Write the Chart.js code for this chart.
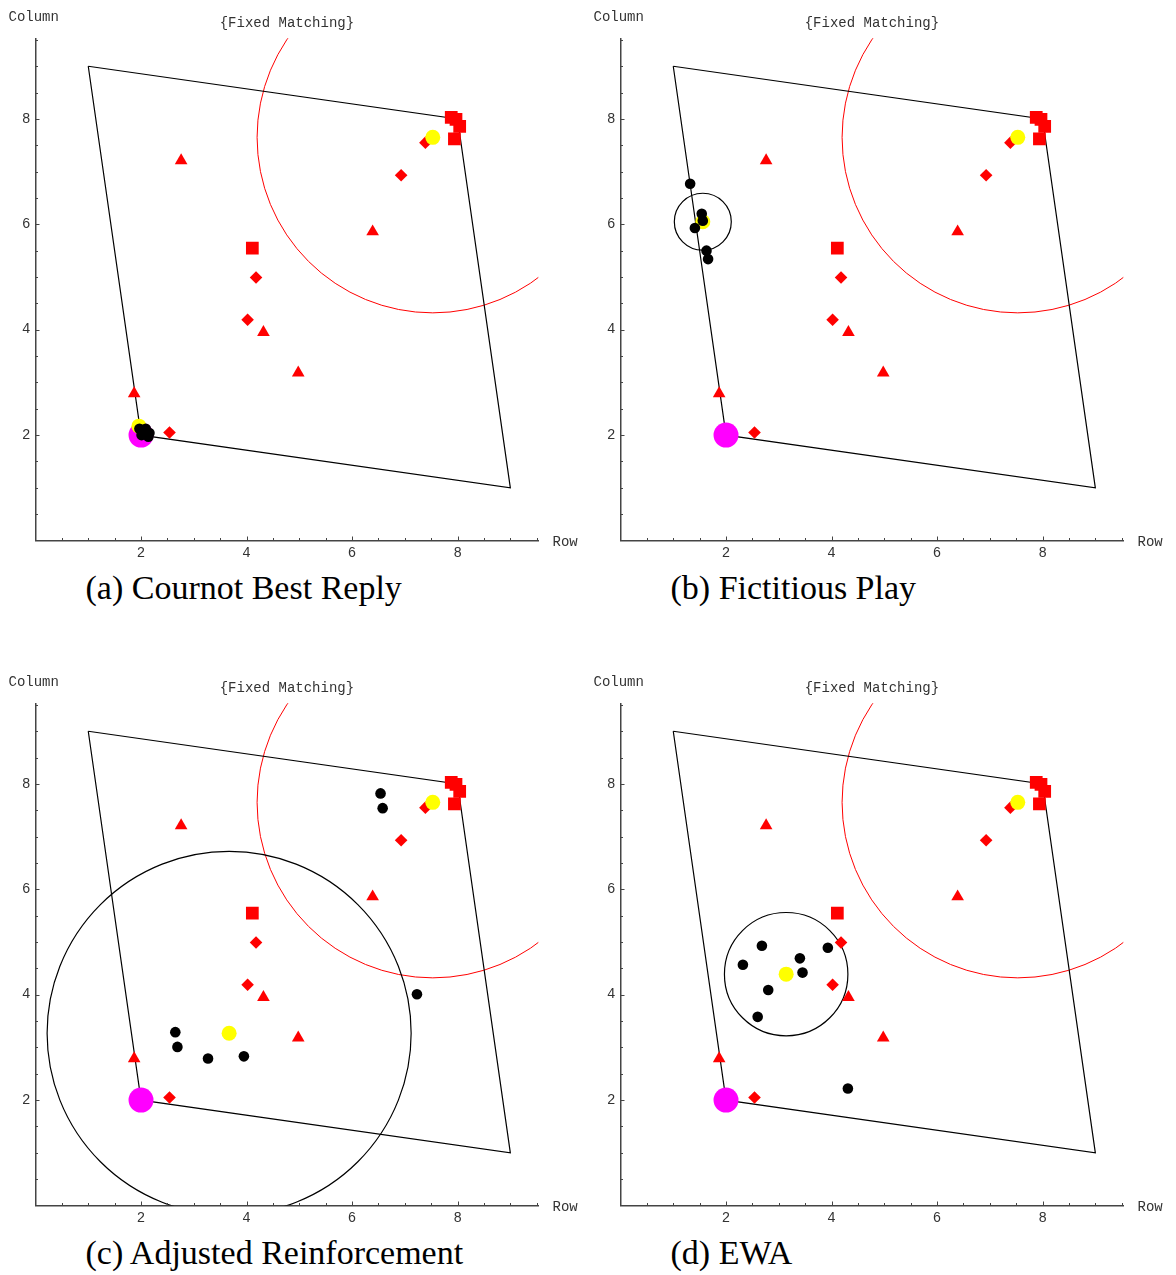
<!DOCTYPE html>
<html>
<head>
<meta charset="utf-8">
<script src="https://cdn.jsdelivr.net/npm/chart.js@4.4.1/dist/chart.umd.min.js"></script>
<style>
html,body{margin:0;padding:0;background:#fff;}
#wrap{position:relative;width:1176px;height:1275px;overflow:hidden;background:#fff;}
#wrap canvas{position:absolute;}
.lbl{position:absolute;font-family:"Liberation Mono",monospace;font-size:14px;line-height:14px;color:#333;white-space:nowrap;}
.cap{position:absolute;font-family:"Liberation Serif",serif;font-size:34px;line-height:34px;color:#000;white-space:nowrap;}
</style>
</head>
<body>
<div id="wrap"></div>
<script>
// ---------- data ----------
const tickValues = [2, 4, 6, 8];
const panelCaptions = ['(a) Cournot Best Reply', '(b) Fictitious Play', '(c) Adjusted Reinforcement', '(d) EWA'];
const chartTitle = '{Fixed Matching}';
const xAxisName = 'Row';
const yAxisName = 'Column';

// feasible region (quadrilateral)
const regionX = [1, 8, 9, 2, 1];
const regionY = [9, 8, 1, 2, 9];

// common red markers
const triangleX = [2.76, 6.39, 4.32, 4.98, 1.87];
const triangleY = [7.21, 5.86, 3.95, 3.18, 2.79];
const diamondX = [6.93, 7.39, 4.18, 4.02, 2.54];
const diamondY = [6.93, 7.55, 4.99, 4.19, 2.05];
const squareX = [4.11, 7.88, 7.97, 8.04, 7.94];
const squareY = [5.55, 8.03, 7.99, 7.86, 7.62];

// start point (magenta)
const startX = [2.0];
const startY = [2.0];

// red target circle: centre and radius
const targetCenter = [7.53, 7.65];
const targetRadius = [3.33];

// simulated outcomes per panel (black)
const runAX = [1.97, 2.09, 2.16, 2.01, 2.14];
const runAY = [2.12, 2.12, 2.04, 2.00, 1.97];
const runBX = [1.32, 1.54, 1.56, 1.41, 1.63, 1.66];
const runBY = [6.77, 6.20, 6.07, 5.93, 5.50, 5.34];
const runCX = [6.54, 6.58, 7.23, 2.65, 2.69, 3.27, 3.95];
const runCY = [7.82, 7.54, 4.01, 3.29, 3.01, 2.79, 2.83];
const runDX = [2.68, 2.32, 3.40, 3.45, 3.93, 2.80, 2.60, 4.31];
const runDY = [4.93, 4.57, 4.69, 4.42, 4.89, 4.09, 3.58, 2.22];

// mean of outcomes (yellow) and spread circle radius per panel
const meanX = [1.96, 1.56, 3.67, 3.14];
const meanY = [2.17, 6.05, 3.27, 4.39];
const spreadR = [0, 0.54, 3.45, 1.17];

// ---------- layout ----------
const runsX = [runAX, runBX, runCX, runDX];
const runsY = [runAY, runBY, runCY, runDY];
const PANEL_LEFT = [0, 585, 0, 585];
const PANEL_TOP = [0, 0, 665, 665];
const CW = 585, CH = 565;
const AXIS_MAX = 9.53;

const wrap = document.getElementById('wrap');
const pts = (xs, ys) => xs.map((x, k) => ({x: x, y: ys[k]}));

const decor = {
  id: 'decor',
  beforeDatasetsDraw(chart, args, opts) {
    const {ctx, chartArea: a, scales: {x, y}} = chart;
    ctx.save();
    ctx.beginPath();
    ctx.rect(a.left, a.top, a.right - a.left, a.bottom - a.top);
    ctx.clip();
    (opts.circles || []).forEach(c => {
      if (!c.r) return;
      const cx = x.getPixelForValue(c.x), cy = y.getPixelForValue(c.y);
      const rx = Math.abs(x.getPixelForValue(c.x + c.r) - cx);
      const ry = Math.abs(y.getPixelForValue(c.y + c.r) - cy);
      ctx.beginPath();
      ctx.ellipse(cx, cy, rx, ry, 0, 0, Math.PI * 2);
      ctx.strokeStyle = c.color;
      ctx.lineWidth = c.width;
      ctx.stroke();
    });
    ctx.restore();
  },
  afterDraw(chart) {
    const {ctx, chartArea: a, scales: {x, y}} = chart;
    ctx.save();
    ctx.strokeStyle = '#444';
    ctx.lineWidth = 1;
    for (let v = 0.5; v < AXIS_MAX; v += 0.5) {
      const major = Math.abs(v / 2 - Math.round(v / 2)) < 1e-9;
      const len = major ? 4 : 2.5;
      const px = Math.round(x.getPixelForValue(v)) + 0.5;
      ctx.beginPath(); ctx.moveTo(px, a.bottom); ctx.lineTo(px, a.bottom - len); ctx.stroke();
      const py = Math.round(y.getPixelForValue(v)) + 0.5;
      ctx.beginPath(); ctx.moveTo(a.left, py); ctx.lineTo(a.left + len, py); ctx.stroke();
    }
    ctx.restore();
  }
};

function axis(isX) {
  return {
    type: 'linear',
    min: 0,
    max: AXIS_MAX,
    afterBuildTicks: s => { s.ticks = tickValues.map(v => ({value: v})); },
    afterFit: s => { if (isX) s.height = CH - 540.5; else s.width = 35.5; },
    grid: {display: false, drawTicks: false},
    border: {display: true, color: '#444', width: 1.5},
    ticks: {
      padding: isX ? 4 : 5,
      autoSkip: false,
      maxRotation: 0,
      color: '#333',
      font: {family: 'Liberation Mono', size: 14}
    }
  };
}

function addText(cls, text, left, top) {
  const d = document.createElement('div');
  d.className = cls;
  d.textContent = text;
  d.style.left = left + 'px';
  d.style.top = top + 'px';
  wrap.appendChild(d);
}

for (let i = 0; i < 4; i++) {
  const cv = document.createElement('canvas');
  cv.width = CW; cv.height = CH;
  cv.style.left = PANEL_LEFT[i] + 'px';
  cv.style.top = PANEL_TOP[i] + 'px';
  wrap.appendChild(cv);

  new Chart(cv, {
    type: 'scatter',
    data: {
      datasets: [
        {label: 'Outcomes', data: pts(runsX[i], runsY[i]), pointStyle: 'circle', pointRadius: 5.3,
         backgroundColor: '#000', borderWidth: 0},
        {label: 'Means', data: pts([meanX[i], targetCenter[0]], [meanY[i], targetCenter[1]]), pointStyle: 'circle',
         pointRadius: 7.5, backgroundColor: '#ffff00', borderWidth: 0},
        {label: 'Start', data: pts(startX, startY), pointStyle: 'circle', pointRadius: 12.5,
         backgroundColor: '#ff00ff', borderWidth: 0},
        {label: 'Squares', data: pts(squareX, squareY), pointStyle: 'rect', pointRadius: 9,
         backgroundColor: '#ff0000', borderWidth: 0},
        {label: 'Diamonds', data: pts(diamondX, diamondY), pointStyle: 'rectRot', pointRadius: 6.3,
         backgroundColor: '#ff0000', borderWidth: 0},
        {label: 'Triangles', data: pts(triangleX, triangleY), pointStyle: 'triangle', pointRadius: 7.3,
         backgroundColor: '#ff0000', borderWidth: 0},
        {label: 'Region', data: pts(regionX, regionY), showLine: true, pointRadius: 0, borderColor: '#000',
         borderWidth: 1.2, fill: false, tension: 0}
      ]
    },
    options: {
      responsive: false,
      animation: false,
      devicePixelRatio: 1,
      events: [],
      layout: {padding: {left: 0, top: 0, right: CW - 538.3, bottom: 0}},
      scales: {x: axis(true), y: axis(false)},
      plugins: {
        legend: {display: false},
        tooltip: {enabled: false},
        title: {
          display: true, text: chartTitle, fullSize: false, color: '#333',
          font: {family: 'Liberation Mono', size: 14, weight: 'normal'},
          padding: {top: 14.5, bottom: 7}
        },
        decor: {
          circles: [
            {x: targetCenter[0], y: targetCenter[1], r: targetRadius[0], color: '#ff0000', width: 1},
            {x: meanX[i], y: meanY[i], r: spreadR[i], color: '#000', width: 1.2}
          ]
        }
      }
    },
    plugins: [decor]
  });

  addText('lbl', yAxisName, PANEL_LEFT[i] + 8.5, PANEL_TOP[i] + 10);
  addText('lbl', xAxisName, PANEL_LEFT[i] + 552.5, PANEL_TOP[i] + 534.5);
  addText('cap', panelCaptions[i], PANEL_LEFT[i] + 85.5, PANEL_TOP[i] + 571);
}
</script>
</body>
</html>
